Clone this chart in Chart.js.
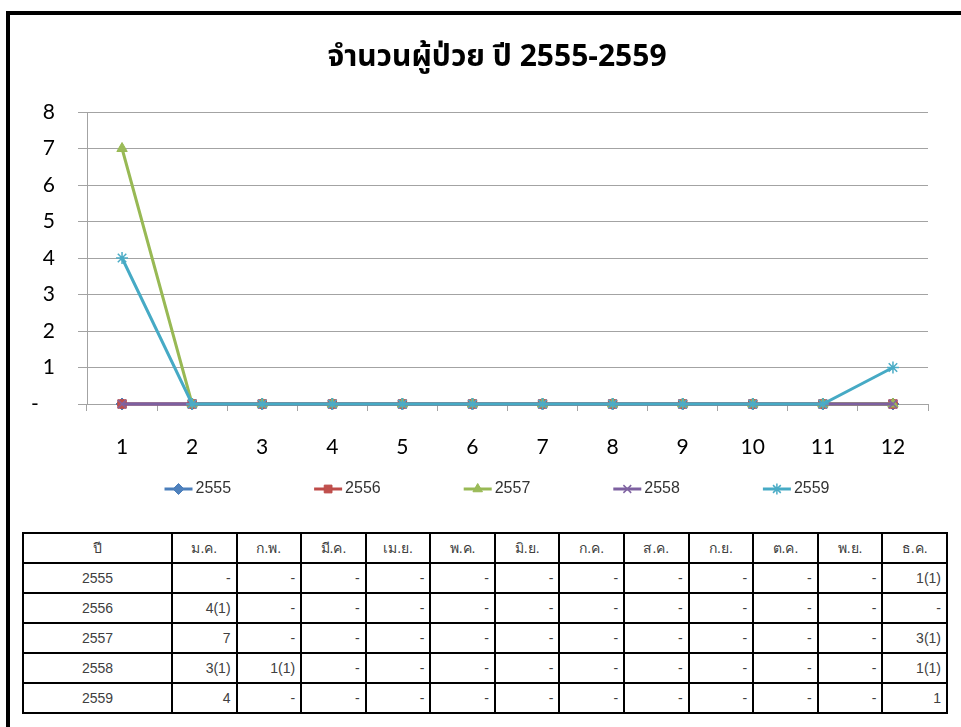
<!DOCTYPE html>
<html>
<head>
<meta charset="utf-8">
<script src="https://cdn.jsdelivr.net/npm/chart.js@4/dist/chart.umd.min.js"></script>
<style>
  html, body { margin: 0; padding: 0; background: #fff; overflow: hidden; }
  body { width: 961px; height: 727px; position: relative; }
  #frame {
    position: absolute; left: 6px; top: 11px; width: 2000px; height: 2000px;
    border-left: 4px solid #000; border-top: 4px solid #000;
  }
  #chart-box { position: absolute; left: 10px; top: 15px; width: 974px; height: 505px; }
  #tbl {
    position: absolute; left: 22px; top: 532px; width: 926px;
    border-collapse: collapse; table-layout: fixed;
    font-family: "Liberation Sans", Arial, sans-serif; font-size: 14px; color: #404040;
  }
  #tbl td, #tbl th {
    border: 2px solid #000; height: 28px; padding: 0 5px; font-weight: normal;
    text-align: right; white-space: nowrap;
  }
  #tbl th, #tbl td.year { text-align: center; }
</style>
</head>
<body>
<div id="frame"></div>
<div id="chart-box"><canvas id="chart"></canvas></div>
<table id="tbl">
  <colgroup><col style="width:149px"></colgroup>
  <thead><tr id="tbl-head"></tr></thead>
  <tbody id="tbl-body"></tbody>
</table>
<script>
const title = "จำนวนผู้ป่วย ปี 2555-2559";
const months = ["1", "2", "3", "4", "5", "6", "7", "8", "9", "10", "11", "12"];
const yTickLabels = ["-", "1", "2", "3", "4", "5", "6", "7", "8"];
const years = ["2555", "2556", "2557", "2558", "2559"];

const s2555 = [0, 0, 0, 0, 0, 0, 0, 0, 0, 0, 0, 0];
const s2556 = [0, 0, 0, 0, 0, 0, 0, 0, 0, 0, 0, 0];
const s2557 = [7, 0, 0, 0, 0, 0, 0, 0, 0, 0, 0, 0];
const s2558 = [0, 0, 0, 0, 0, 0, 0, 0, 0, 0, 0, 0];
const s2559 = [4, 0, 0, 0, 0, 0, 0, 0, 0, 0, 0, 1];

// table under the chart
const tableHead = ["ปี", "ม.ค.", "ก.พ.", "มี.ค.", "เม.ย.", "พ.ค.", "มิ.ย.", "ก.ค.", "ส.ค.", "ก.ย.", "ต.ค.", "พ.ย.", "ธ.ค."];
const row2555 = ["-", "-", "-", "-", "-", "-", "-", "-", "-", "-", "-", "1(1)"];
const row2556 = ["4(1)", "-", "-", "-", "-", "-", "-", "-", "-", "-", "-", "-"];
const row2557 = ["7", "-", "-", "-", "-", "-", "-", "-", "-", "-", "-", "3(1)"];
const row2558 = ["3(1)", "1(1)", "-", "-", "-", "-", "-", "-", "-", "-", "-", "1(1)"];
const row2559 = ["4", "-", "-", "-", "-", "-", "-", "-", "-", "-", "-", "1"];
const tableRows = [row2555, row2556, row2557, row2558, row2559];

document.getElementById("tbl-head").innerHTML = tableHead.map((h) => `<th>${h}</th>`).join("");
document.getElementById("tbl-body").innerHTML = tableRows
  .map((r, i) => `<tr><td class="year">${years[i]}</td>${r.map((v) => `<td>${v}</td>`).join("")}</tr>`)
  .join("");

const styles = [
  { line: "#4A7EBB", fill: "#4F81BD", point: "rectRot" },
  { line: "#BE4B48", fill: "#C0504D", point: "rect" },
  { line: "#98B954", fill: "#9BBB59", point: "triangle" },
  { line: "#7D60A0", fill: "#8064A2", point: "crossRot" },
  { line: "#46AAC5", fill: "#4BACC6", point: "star" },
];
const series = [s2555, s2556, s2557, s2558, s2559];
const strokeOnly = (p) => p === "crossRot" || p === "star";

// legend with wide, even spacing (Excel style)
const seriesLegend = {
  id: "seriesLegend",
  afterDraw(chart, args, opts) {
    const ctx = chart.ctx;
    ctx.save();
    ctx.font = opts.font;
    ctx.textBaseline = "middle";
    const items = chart.data.datasets.map((ds) => ({
      ds,
      w: opts.iconWidth + opts.gap + ctx.measureText(ds.label).width,
    }));
    const total = items.reduce((a, it) => a + it.w, 0) + opts.spacing * (items.length - 1);
    let x = (chart.width - total) / 2;
    const y = chart.height - opts.bottom;
    items.forEach(({ ds, w }) => {
      ctx.strokeStyle = ds.borderColor;
      ctx.lineWidth = 3;
      ctx.beginPath();
      ctx.moveTo(x, y);
      ctx.lineTo(x + opts.iconWidth, y);
      ctx.stroke();
      ctx.fillStyle = ds.pointBackgroundColor;
      ctx.strokeStyle = ds.pointBorderColor;
      ctx.lineWidth = ds.pointBorderWidth;
      Chart.helpers.drawPoint(ctx, { pointStyle: ds.pointStyle, radius: 5.5, borderWidth: ds.pointBorderWidth, rotation: 0 }, x + opts.iconWidth / 2, y);
      ctx.fillStyle = opts.color;
      ctx.fillText(ds.label, x + opts.iconWidth + opts.gap, y);
      x += w + opts.spacing;
    });
    ctx.restore();
  },
};

const grid = "#a3a3a3";

new Chart(document.getElementById("chart"), {
  type: "line",
  data: {
    labels: months,
    datasets: series.map((data, i) => ({
      label: years[i],
      data,
      clip: false,
      borderColor: styles[i].line,
      borderWidth: 3,
      pointStyle: styles[i].point,
      pointRadius: 6,
      pointBackgroundColor: styles[i].fill,
      pointBorderColor: strokeOnly(styles[i].point) ? styles[i].fill : styles[i].line,
      pointBorderWidth: strokeOnly(styles[i].point) ? 1.5 : 1,
      tension: 0,
      order: series.length - i,
    })),
  },
  options: {
    responsive: true,
    maintainAspectRatio: false,
    animation: false,
    devicePixelRatio: 1,
    layout: { padding: { left: 0, right: 0, top: 0, bottom: 56 } },
    plugins: {
      legend: { display: false },
      tooltip: { enabled: false },
      title: {
        display: true,
        text: title,
        color: "#000",
        font: { family: "'Noto Sans Thai', 'Noto Sans', sans-serif", size: 30, weight: "bold" },
        padding: { top: 27, bottom: 34 },
      },
      seriesLegend: {
        font: "16px 'Liberation Sans', Arial, sans-serif",
        color: "#333",
        iconWidth: 28,
        gap: 3,
        spacing: 83,
        bottom: 31,
      },
    },
    scales: {
      x: {
        offset: true,
        grid: { offset: true, drawOnChartArea: false, drawTicks: true, tickLength: 7, color: grid },
        border: { color: grid },
        ticks: { color: "#000", padding: 24, font: { family: "Lato, 'Open Sans', sans-serif", size: 21 } },
        afterFit: (s) => { s.height = 60; },
      },
      y: {
        min: 0,
        max: 8,
        grid: { color: grid, tickLength: 9 },
        border: { color: grid },
        ticks: {
          stepSize: 1,
          color: "#000",
          padding: 23,
          font: { family: "Lato, 'Open Sans', sans-serif", size: 21 },
          callback: (v) => (v === 0 ? yTickLabels[0] + "   " : yTickLabels[v]),
        },
        afterFit: (s) => { s.width = 77; },
      },
      // empty right-hand spacer so the title stays centred on the frame
      spacer: {
        type: "linear",
        position: "right",
        grid: { display: false },
        border: { display: false },
        ticks: { display: false },
        afterFit: (s) => { s.width = 56; },
      },
    },
  },
  plugins: [seriesLegend],
});
</script>
</body>
</html>
